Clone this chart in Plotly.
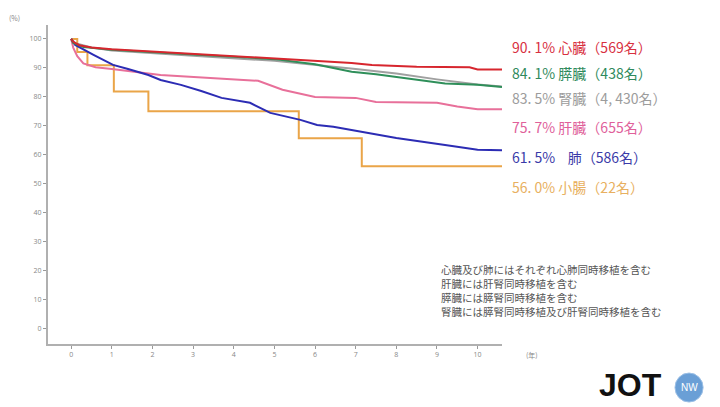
import plotly.graph_objects as go

# ---- data (years, graft survival %) ----
heart_t = [0, 0.05, 0.2, 0.5, 1, 2, 3.4, 5, 6.9, 7.4, 8.5, 9.8, 10, 10.6]
heart_v = [100, 99.0, 97.8, 97.0, 96.4, 95.6, 94.6, 93.4, 91.7, 91.0, 90.4, 90.2, 89.4, 89.4]

panc_t = [0, 0.05, 0.3, 1, 3, 5, 6, 6.9, 7.5, 8.5, 9.2, 10, 10.6]
panc_v = [100, 98.6, 97.2, 96.2, 94.6, 93.0, 91.2, 88.6, 87.8, 85.8, 84.6, 84.1, 83.4]

kid_t = [0, 0.1, 0.5, 1, 3, 5, 7, 8, 9, 10, 10.6]
kid_v = [100, 98.5, 97.0, 96.0, 94.2, 92.4, 89.6, 88.0, 86.0, 84.2, 83.5]

liver_t = [0, 0.05, 0.15, 0.3, 0.6, 1, 2.2, 3.4, 4.6, 5.2, 6.0, 7.0, 7.5, 9.0, 9.5, 10, 10.6]
liver_v = [100, 97.0, 94.0, 91.5, 90.2, 89.6, 87.5, 86.5, 85.5, 82.4, 79.9, 79.6, 78.2, 77.9, 76.6, 75.7, 75.7]

lung_t = [0, 0.1, 0.55, 1.03, 1.4, 1.9, 2.2, 2.7, 3.2, 3.7, 4.4, 4.9, 5.64, 6.05, 6.45, 6.9, 7.0, 8.0, 9.2, 10, 10.6]
lung_v = [100, 97.9, 94.5, 91.0, 89.6, 87.5, 85.8, 84.1, 82.0, 79.6, 77.9, 74.4, 72.0, 70.2, 69.6, 68.5, 68.3, 65.7, 63.3, 61.7, 61.5]

si_t = [0, 0.15, 0.4, 1.05, 1.9, 5.6, 7.15, 10.6]
si_v = [100, 95.5, 90.9, 81.8, 75.0, 65.6, 56.0, 56.0]

x_ticks = list(range(0, 11))
y_ticks = list(range(0, 101, 10))

# label text, colour, vertical position (fraction of plot height)
labels = [
    ("90. 1% 心臓（569名）", "#d8303f", 0.931),
    ("84. 1% 膵臓（438名）", "#2f8a5c", 0.850),
    ("83. 5% 腎臓（4, 430名）", "#9c9c9c", 0.771),
    ("75. 7% 肝臓（655名）", "#e0609a", 0.680),
    ("61. 5%    肺（586名）", "#3a3aa8", 0.586),
    ("56. 0% 小腸（22名）", "#e8b060", 0.492),
]

notes = [
    "心臓及び肺にはそれぞれ心肺同時移植を含む",
    "肝臓には肝腎同時移植を含む",
    "膵臓には膵腎同時移植を含む",
    "腎臓には膵腎同時移植及び肝腎同時移植を含む",
]
notes_y = [0.235, 0.191, 0.147, 0.103]

fig = go.Figure()

series = [
    (si_t, si_v, "#eaa548", "hv"),
    (kid_t, kid_v, "#a0a0a0", "linear"),
    (liver_t, liver_v, "#e8709a", "linear"),
    (lung_t, lung_v, "#2c2cb4", "linear"),
    (panc_t, panc_v, "#2f8f5a", "linear"),
    (heart_t, heart_v, "#d7262e", "linear"),
]
for t, v, c, shape in series:
    fig.add_trace(go.Scatter(x=t, y=v, mode="lines",
                             line=dict(color=c, width=2, shape=shape),
                             showlegend=False, hoverinfo="skip"))

font_jp = "Noto Sans CJK JP"

annotations = []
for text, color, yp in labels:
    annotations.append(dict(x=1.0176, y=yp, xref="paper", yref="paper", text=text,
                            showarrow=False, xanchor="left", yanchor="middle",
                            font=dict(family=font_jp, size=14, color=color)))

for text, yp in zip(notes, notes_y):
    annotations.append(dict(x=0.863, y=yp, xref="paper", yref="paper",
                            text=text, showarrow=False, borderpad=0,
                            xanchor="left", yanchor="middle", align="left",
                            font=dict(family=font_jp, size=10.5, color="#555555")))

annotations.append(dict(x=-0.073, y=1.022, xref="paper", yref="paper", text="(%)",
                        showarrow=False, xanchor="center", yanchor="middle",
                        font=dict(family=font_jp, size=7, color="#888888")))

annotations.append(dict(x=1.066, y=-0.034, xref="paper", yref="paper", text="(年)",
                        showarrow=False, xanchor="center", yanchor="middle",
                        font=dict(family=font_jp, size=7, color="#888888")))

# JOT logo
annotations.append(dict(x=1.282, y=-0.128, xref="paper", yref="paper", text="<b>JOT</b>",
                        showarrow=False, xanchor="center", yanchor="middle",
                        font=dict(family="Liberation Sans", size=32, color="#111111")))

# the page has an 8px body margin; figure is sized so the plot sits where the reference has it
fig.update_layout(
    width=712, height=399,
    margin=dict(l=40, r=218, t=17, b=63),
    paper_bgcolor="white", plot_bgcolor="white",
    xaxis=dict(range=[-0.57, 10.6], tickvals=x_ticks, ticktext=[str(v) for v in x_ticks],
               showline=True, linecolor="#b0b0b0", linewidth=2, showgrid=False, zeroline=False,
               ticks="outside", ticklen=3, tickcolor="#999999",
               tickfont=dict(size=7, color="#888888")),
    yaxis=dict(range=[-5.5, 104.8], tickvals=y_ticks, ticktext=[str(v) for v in y_ticks],
               showline=True, linecolor="#b0b0b0", linewidth=2, showgrid=False, zeroline=False,
               ticks="outside", ticklen=3, tickcolor="#999999",
               tickfont=dict(size=7, color="#888888")),
    annotations=annotations,
)

# NW circle of the logo
fig.add_shape(type="circle", xref="paper", yref="paper",
              x0=1.381, x1=1.443, y0=-0.182, y1=-0.091,
              fillcolor="#6a9fd6", line=dict(color="#9cc0e6", width=1))
fig.add_annotation(x=1.412, y=-0.1365, xref="paper", yref="paper", text="NW",
                   showarrow=False, xanchor="center", yanchor="middle",
                   font=dict(family="Liberation Sans", size=10, color="white"))

fig.write_html("out.html")
